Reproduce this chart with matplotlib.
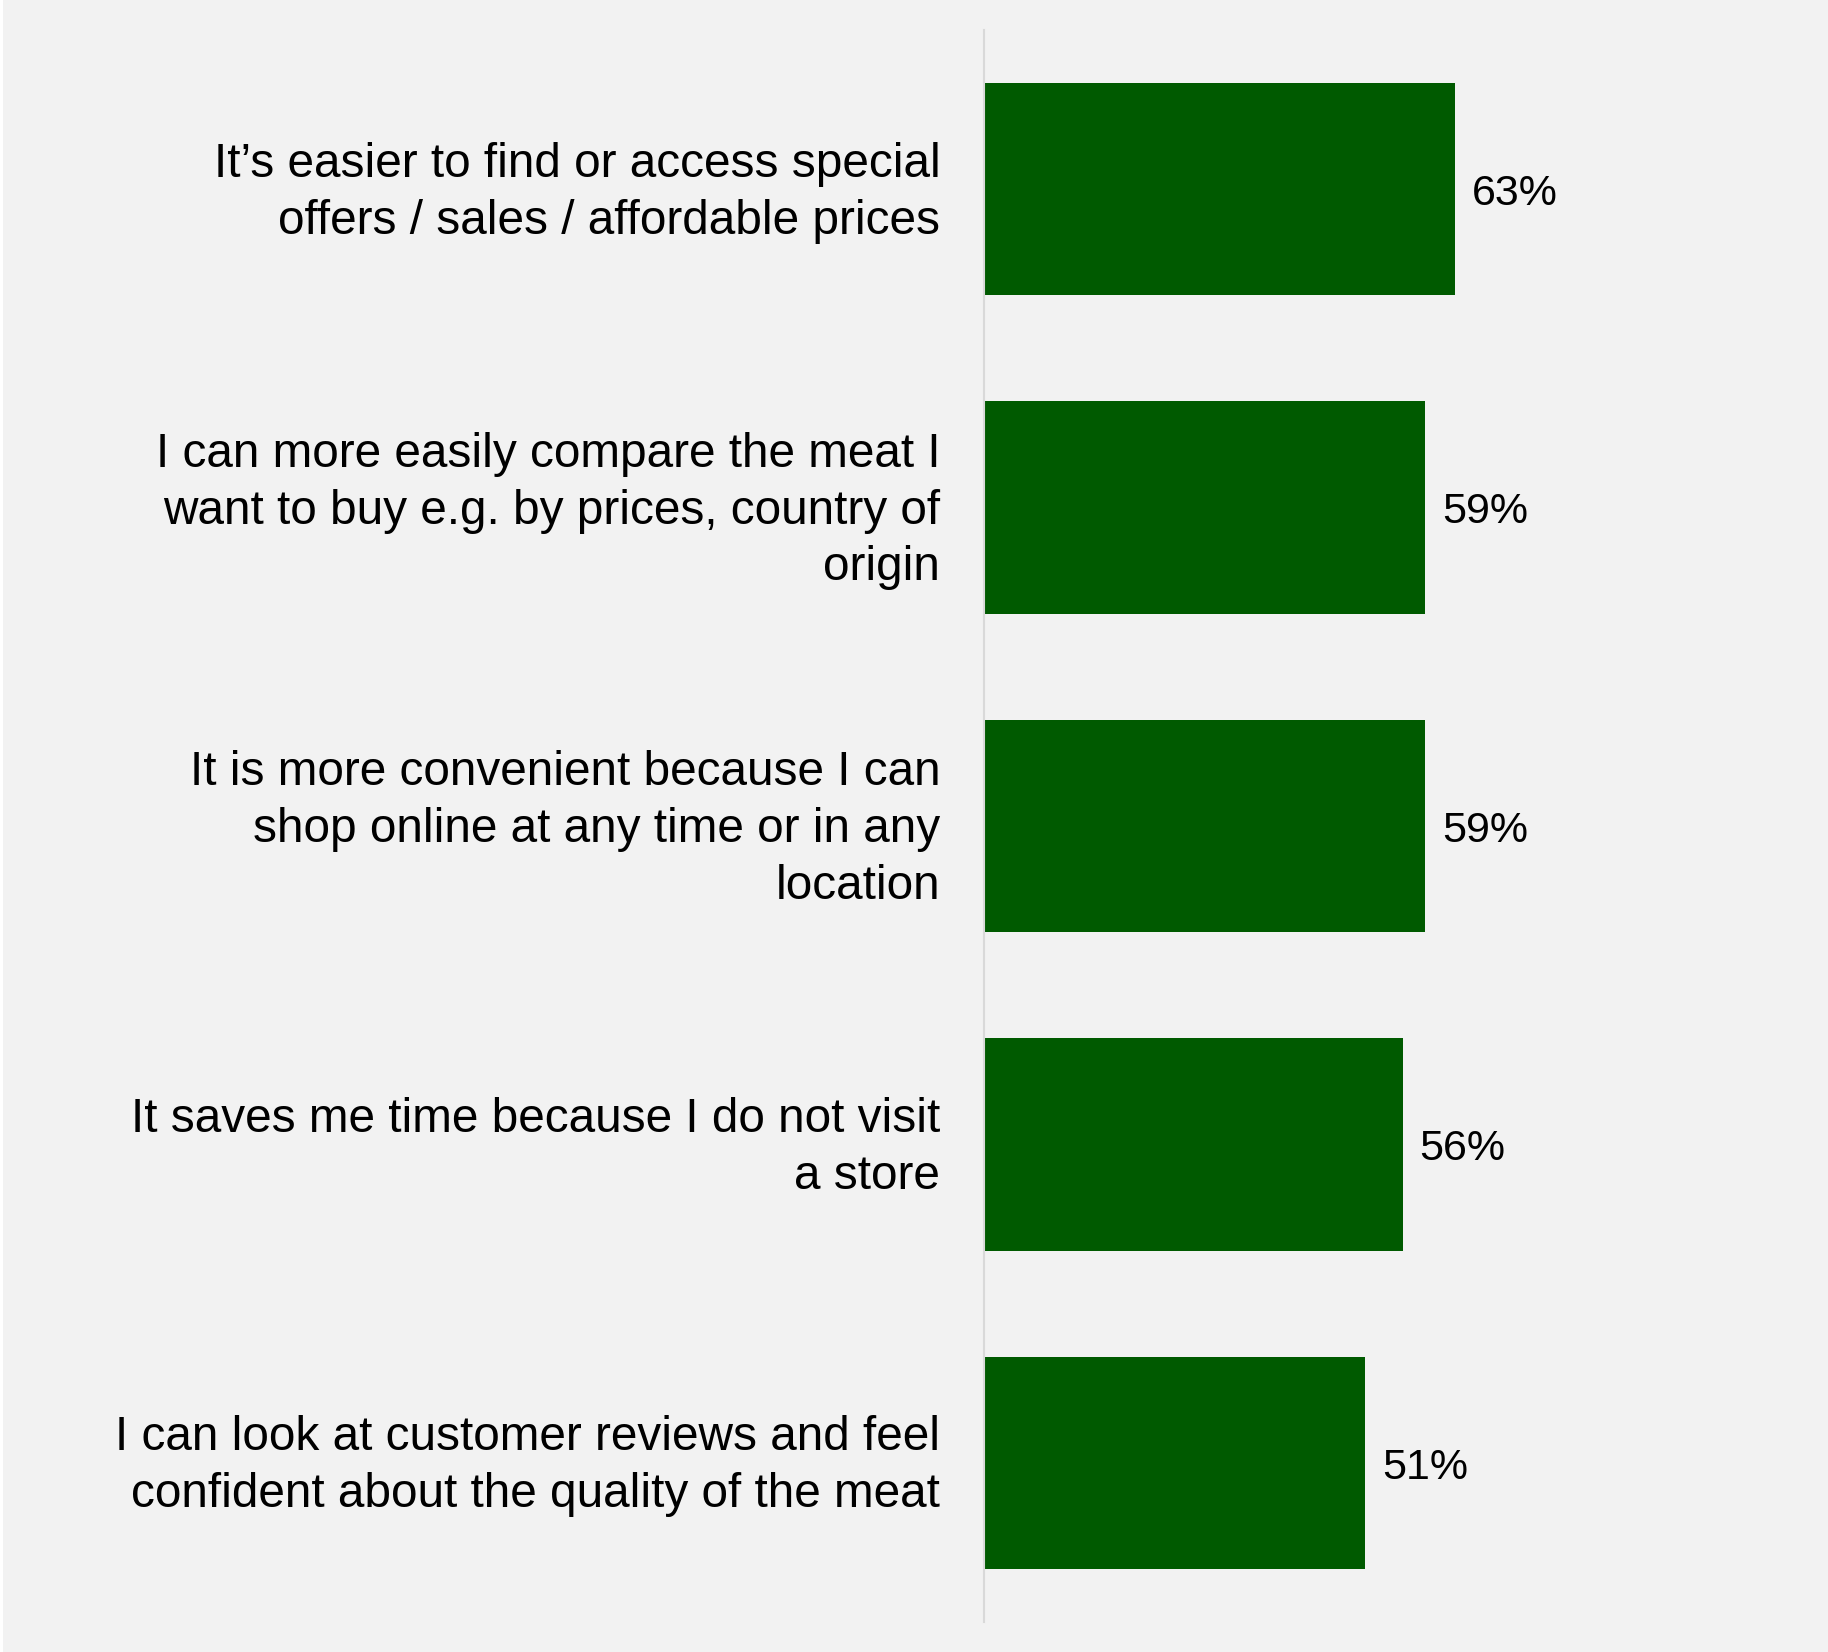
import matplotlib.pyplot as plt
from matplotlib.patches import Rectangle
from matplotlib.transforms import ScaledTranslation

plt.rcParams['font.family'] = ['Liberation Sans', 'DejaVu Sans']

# Reasons for buying meat online (share of respondents)
reasons = [
    "It\u2019s easier to find or access special\noffers / sales / affordable prices",
    "I can more easily compare the meat I\nwant to buy e.g. by prices, country of\norigin",
    "It is more convenient because I can\nshop online at any time or in any\nlocation",
    "It saves me time because I do not visit\na store",
    "I can look at customer reviews and feel\nconfident about the quality of the meat",
]
shares = [63, 59, 59, 56, 51]

bg = "#f2f2f2"
green = "#005a00"

fig = plt.figure(figsize=(18.28, 16.52), dpi=100, facecolor="white")
fig.patches.append(Rectangle((3 / 1828, 0), 1, 1, transform=fig.transFigure,
                             facecolor=bg, edgecolor="none", zorder=-10))

ax = fig.add_axes([984 / 1828, 30 / 1652, 0.409, 1592 / 1652])
ax.set_facecolor("none")

pos = list(range(len(reasons)))
ax.barh(pos, shares, height=0.667, color=green)
ax.set_ylim(len(reasons) - 0.5, -0.5)
ax.set_xlim(0, 100)

for y, v in zip(pos, shares):
    ax.annotate(f"{v}%", (v, y), xytext=(17 * 0.72, -3.5), textcoords="offset points",
                va="center", ha="left", fontsize=31, color="black")

ax.set_yticks(pos)
ax.set_yticklabels(reasons, fontsize=34.4, linespacing=1.34, va="center")
ax.tick_params(axis="y", length=0, pad=31.5)
ax.set_xticks([])
# nudge the category labels slightly down
shift = ScaledTranslation(0, -2.5 / 72, fig.dpi_scale_trans)
for lbl in ax.get_yticklabels():
    lbl.set_transform(lbl.get_transform() + shift)

for side in ["top", "right", "bottom"]:
    ax.spines[side].set_visible(False)
ax.spines["left"].set_color("#d9d9d9")
ax.spines["left"].set_linewidth(1.5)

plt.savefig("out.png", dpi=100, facecolor=fig.get_facecolor())
